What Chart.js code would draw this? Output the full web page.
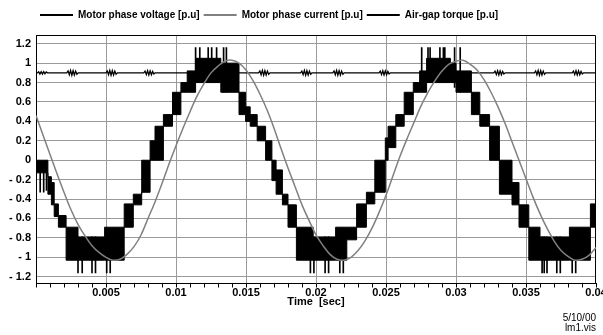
<!DOCTYPE html>
<html>
<head>
<meta charset="utf-8">
<script src="https://cdn.jsdelivr.net/npm/chart.js@4.4.1/dist/chart.umd.min.js"></script>
<style>
  html, body { margin: 0; padding: 0; background: #fff; overflow: hidden; }
  #wrap { width: 603px; height: 335px; overflow: hidden; }
</style>
</head>
<body>
<div id="wrap"><canvas id="myChart" width="620" height="335"></canvas></div>
<script>
// time in ms, labels shown in seconds
var xTickVals = [0,1,2,3,4,5,6,7,8,9,10,11,12,13,14,15,16,17,18,19,20,21,22,23,24,25,26,27,28,29,30,31,32,33,34,35,36,37,38,39,40];
var xTickLabels = {5: '0.005', 10: '0.01', 15: '0.015', 20: '0.02', 25: '0.025', 30: '0.03', 35: '0.035', 40: '0.04'};
var yTickVals = [-1.2, -1, -0.8, -0.6, -0.4, -0.2, 0, 0.2, 0.4, 0.6, 0.8, 1, 1.2];
var yTickLabels = ['- 1.2', '- 1', '- 0.8', '- 0.6', '- 0.4', '- 0.2', '0', '0.2', '0.4', '0.6', '0.8', '1', '1.2'];

var seriesNames = ['Motor phase voltage [p.u]', 'Motor phase current [p.u]', 'Air-gap torque [p.u]'];

// voltage: switching band, each level holds from voltT[i] to voltT[i+1]
var voltT  = [0, 0.85, 1.10, 1.30, 1.60, 2.15, 3.00, 4.90, 6.30, 6.95, 7.55, 8.15, 8.50, 9.10, 9.75, 10.35, 10.80, 11.40, 13.20, 14.50, 14.97, 15.30, 15.80, 16.40, 16.85, 17.15, 17.60, 18.00, 18.60, 19.80, 21.40, 22.20, 22.90, 23.60, 24.20, 24.95, 25.15, 25.70, 26.30, 26.95, 27.40, 27.90, 29.60, 30.00, 31.10, 31.70, 32.40, 33.10, 34.00, 34.50, 35.20, 36.00, 38.10, 39.60, 40.00];
var voltLo = [-0.13, -0.35, -0.46, -0.58, -0.69, -1.03, -1.03, -1.03, -0.69, -0.46, -0.33, 0.00, 0.00, 0.35, 0.47, 0.70, 0.70, 0.80, 0.70, 0.47, 0.40, 0.35, 0.20, 0.00, -0.21, -0.35, -0.46, -0.69, -1.03, -1.03, -1.03, -0.82, -0.69, -0.45, -0.33, 0.00, 0.13, 0.35, 0.47, 0.70, 0.70, 0.80, 0.80, 0.70, 0.47, 0.35, 0.00, -0.35, -0.46, -0.69, -1.03, -1.03, -1.03, -0.69, -0.69];
var voltHi = [0.00, -0.17, -0.23, -0.45, -0.57, -0.69, -0.79, -0.69, -0.45, -0.35, 0.00, 0.20, 0.35, 0.47, 0.70, 0.80, 0.92, 1.05, 1.00, 0.70, 0.55, 0.47, 0.35, 0.20, 0.00, -0.10, -0.35, -0.46, -0.69, -0.79, -0.69, -0.69, -0.45, -0.33, 0.00, 0.23, 0.35, 0.47, 0.70, 0.80, 0.92, 1.05, 1.00, 0.92, 0.70, 0.47, 0.35, 0.00, -0.23, -0.46, -0.69, -0.79, -0.69, -0.45, -0.45];

// single switching pulses sticking out of the band
var spikeT    = [0.30, 0.55, 0.75, 3.00, 3.30, 4.00, 4.25, 5.05, 5.30, 11.40, 11.70, 12.30, 12.55, 12.90, 13.40, 13.60, 19.60, 19.85, 20.65, 20.90, 21.70, 21.95, 27.55, 28.00, 28.15, 28.85, 29.10, 29.20, 29.90, 30.30, 36.15, 36.30, 36.50, 37.20, 37.45, 38.30, 38.55];
var spikeFrom = [-0.33, -0.33, -0.31, -1.16, -1.16, -1.16, -1.16, -1.16, -1.16, 0.80, 0.80, 0.80, 0.80, 0.80, 0.70, 0.70, -1.16, -1.16, -1.16, -1.16, -1.16, -1.16, 0.75, 0.80, 0.80, 0.80, 0.80, 0.80, 0.75, 0.70, -1.16, -1.16, -1.16, -1.16, -1.16, -1.16, -1.16];
var spikeTo   = [-0.10, -0.10, -0.10, -0.79, -0.79, -0.79, -0.79, -0.79, -0.79, 1.16, 1.16, 1.16, 1.16, 1.16, 1.16, 1.16, -0.79, -0.79, -0.79, -0.79, -0.79, -0.79, 1.16, 1.16, 1.16, 1.16, 1.16, 1.16, 1.16, 1.16, -0.79, -0.79, -0.79, -0.79, -0.79, -0.79, -0.79];

var currentT = [0, 0.5, 1, 1.5, 2, 2.5, 3, 3.5, 4, 4.5, 5, 5.5, 6, 6.5, 7, 7.5, 8, 8.5, 9, 9.5, 10, 10.5, 11, 11.5, 12, 12.5, 13, 13.5, 14, 14.5, 15, 15.5, 16, 16.5, 17, 17.5, 18, 18.5, 19, 19.5, 20, 20.5, 21, 21.5, 22, 22.5, 23, 23.5, 24, 24.5, 25, 25.5, 26, 26.5, 27, 27.5, 28, 28.5, 29, 29.5, 30, 30.5, 31, 31.5, 32, 32.5, 33, 33.5, 34, 34.5, 35, 35.5, 36, 36.5, 37, 37.5, 38, 38.5, 39, 39.5, 40];
var currentV = [0.46, 0.26, 0.06, -0.14, -0.33, -0.51, -0.66, -0.78, -0.88, -0.95, -1.00, -1.03, -1.02, -0.97, -0.89, -0.77, -0.60, -0.43, -0.24, -0.04, 0.15, 0.33, 0.50, 0.66, 0.79, 0.90, 0.97, 1.02, 1.03, 1.00, 0.93, 0.82, 0.68, 0.52, 0.33, 0.12, -0.08, -0.27, -0.46, -0.62, -0.77, -0.88, -0.97, -1.02, -1.03, -1.00, -0.93, -0.83, -0.70, -0.54, -0.36, -0.16, 0.04, 0.22, 0.39, 0.56, 0.70, 0.82, 0.92, 0.99, 1.02, 1.03, 0.99, 0.93, 0.83, 0.70, 0.55, 0.38, 0.19, 0.00, -0.19, -0.38, -0.55, -0.70, -0.83, -0.93, -0.99, -1.03, -1.02, -0.98, -0.90];

var torqueT = [0, 0.10, 0.19, 0.28, 0.37, 0.46, 0.55, 0.64, 0.73, 0.82,
  2.20, 2.29, 2.38, 2.47, 2.56, 2.65, 2.74, 2.83, 2.92, 3.01,
  5.00, 5.09, 5.18, 5.27, 5.36, 5.45, 5.54, 5.63, 5.72, 5.81,
  7.70, 7.79, 7.88, 7.97, 8.06, 8.15, 8.24, 8.33, 8.42, 8.51,
  15.90, 15.99, 16.08, 16.17, 16.26, 16.35, 16.44, 16.53, 16.62, 16.71,
  18.90, 18.99, 19.08, 19.17, 19.26, 19.35, 19.44, 19.53, 19.62, 19.71,
  21.20, 21.29, 21.38, 21.47, 21.56, 21.65, 21.74, 21.83, 21.92, 22.01,
  24.50, 24.59, 24.68, 24.77, 24.86, 24.95, 25.04, 25.13, 25.22, 25.31,
  32.70, 32.79, 32.88, 32.97, 33.06, 33.15, 33.24, 33.33, 33.42, 33.51,
  35.60, 35.69, 35.78, 35.87, 35.96, 36.05, 36.14, 36.23, 36.32, 36.41,
  38.30, 38.39, 38.48, 38.57, 38.66, 38.75, 38.84, 38.93, 39.02, 39.11, 40];
var torqueV = [0.90, 0.90, 0.912, 0.888, 0.912, 0.888, 0.912, 0.89, 0.91, 0.90,
  0.90, 0.92, 0.88, 0.925, 0.875, 0.922, 0.878, 0.918, 0.885, 0.90,
  0.90, 0.92, 0.88, 0.925, 0.875, 0.922, 0.878, 0.918, 0.885, 0.90,
  0.90, 0.918, 0.882, 0.922, 0.878, 0.92, 0.88, 0.915, 0.888, 0.90,
  0.90, 0.92, 0.88, 0.925, 0.875, 0.922, 0.878, 0.918, 0.885, 0.90,
  0.90, 0.918, 0.882, 0.925, 0.875, 0.922, 0.878, 0.918, 0.885, 0.90,
  0.90, 0.92, 0.88, 0.925, 0.875, 0.922, 0.878, 0.918, 0.885, 0.90,
  0.90, 0.918, 0.882, 0.922, 0.878, 0.92, 0.88, 0.915, 0.888, 0.90,
  0.90, 0.918, 0.882, 0.922, 0.878, 0.92, 0.88, 0.915, 0.888, 0.90,
  0.90, 0.92, 0.88, 0.925, 0.875, 0.922, 0.878, 0.918, 0.885, 0.90,
  0.90, 0.918, 0.882, 0.922, 0.878, 0.92, 0.88, 0.915, 0.888, 0.90, 0.90];

function pts(xs, ys) {
  return xs.map(function (x, i) { return {x: x, y: ys[i]}; });
}

// order in the legend: voltage, current, torque
var legendRank = {0: 0, 3: 1, 4: 2};

var framePlugin = {
  id: 'frame',
  beforeDatasetsDraw: function (chart) {
    var a = chart.chartArea, c = chart.ctx;
    c.save();
    c.strokeStyle = '#000';
    c.lineWidth = 1;
    c.beginPath();
    c.moveTo(Math.round(a.left) + 0.5, Math.round(a.top) + 0.5);
    c.lineTo(Math.round(a.right) - 0.5, Math.round(a.top) + 0.5);
    c.lineTo(Math.round(a.right) - 0.5, Math.round(a.bottom));
    c.stroke();
    c.restore();
  }
};

Chart.defaults.font.family = '"Liberation Sans", Arial, sans-serif';
Chart.defaults.font.size = 11;
Chart.defaults.font.weight = 'bold';
Chart.defaults.color = '#000';

var ctx = document.getElementById('myChart');
var myChart = new Chart(ctx, {
  type: 'line',
  data: {
    datasets: [{
      label: seriesNames[0],
      data: pts(voltT, voltHi),
      stepped: 'before',
      borderColor: '#000',
      backgroundColor: '#000',
      borderWidth: 1,
      pointRadius: 0,
      fill: false,
      order: 2
    }, {
      label: 'vlo',
      data: pts(voltT, voltLo),
      stepped: 'before',
      borderColor: '#000',
      backgroundColor: '#000',
      borderWidth: 1,
      pointRadius: 0,
      fill: '-1',
      order: 2
    }, {
      type: 'bar',
      label: 'vspike',
      data: spikeT.map(function (t, i) { return {x: t, y: [spikeFrom[i], spikeTo[i]]}; }),
      backgroundColor: '#000',
      borderWidth: 0,
      barThickness: 1,
      grouped: false,
      order: 3
    }, {
      label: seriesNames[1],
      data: pts(currentT, currentV),
      borderColor: '#808080',
      backgroundColor: '#808080',
      borderWidth: 1.5,
      pointRadius: 0,
      tension: 0.35,
      fill: false,
      order: 0
    }, {
      label: seriesNames[2],
      data: pts(torqueT, torqueV),
      borderColor: '#000',
      backgroundColor: '#000',
      borderWidth: 1.3,
      pointRadius: 0,
      fill: false,
      order: 1
    }]
  },
  options: {
    responsive: false,
    animation: false,
    devicePixelRatio: 1,
    layout: { padding: { left: 0, right: 24, top: 6, bottom: 1.5 } },
    plugins: {
      tooltip: { enabled: false },
      legend: {
        position: 'top',
        align: 'start',
        fullSize: false,
        labels: {
          usePointStyle: true,
          pointStyle: 'line',
          pointStyleWidth: 33,
          padding: 4,
          color: '#000',
          font: { family: '"Liberation Sans Narrow", "Arial Narrow", "Liberation Sans", sans-serif', size: 10, weight: 'bold' },
          filter: function (item) { return item.datasetIndex in legendRank; },
          sort: function (a, b) { return legendRank[a.datasetIndex] - legendRank[b.datasetIndex]; },
          generateLabels: function (chart) {
            var items = Chart.defaults.plugins.legend.labels.generateLabels(chart);
            items.forEach(function (it) { it.lineWidth = 2; });
            return items;
          }
        }
      },
      subtitle: {
        display: true,
        position: 'bottom',
        align: 'end',
        text: ['5/10/00', 'lm1.vis'],
        color: '#000',
        font: { size: 10, weight: 'normal', lineHeight: 1.0 },
        padding: { top: 5, bottom: 0 }
      }
    },
    scales: {
      x: {
        type: 'linear',
        min: 0,
        max: 40,
        offset: false,
        afterBuildTicks: function (s) { s.ticks = xTickVals.map(function (v) { return {value: v}; }); },
        afterFit: function (s) { s.height = 25; },
        ticks: {
          autoSkip: false,
          maxRotation: 0,
          padding: -1,
          font: { size: 11, weight: 'bold' },
          callback: function (v) { return xTickLabels[v] || ''; }
        },
        grid: {
          offset: false,
          drawTicks: true,
          tickLength: 4,
          tickColor: '#000',
          color: function (c) {
            var v = c.tick ? c.tick.value : 0;
            return (v % 5 === 0 && v > 0 && v < 40) ? '#9a9a9a' : 'rgba(0,0,0,0)';
          },
          lineWidth: 1,
          borderDash: [3, 2]
        },
        border: { display: true, color: '#000', width: 1 },
        title: {
          display: true,
          text: 'Time  [sec]',
          font: { size: 11, weight: 'bold' },
          padding: { top: 0, bottom: 0 }
        }
      },
      // empty strip between legend and plot
      xTop: {
        type: 'linear',
        position: 'top',
        min: 0,
        max: 40,
        display: true,
        afterFit: function (s) { s.height = 5; },
        ticks: { display: false },
        grid: { display: false, drawTicks: false },
        border: { display: false }
      },
      y: {
        min: -1.27,
        max: 1.29,
        afterBuildTicks: function (s) { s.ticks = yTickVals.map(function (v) { return {value: v}; }); },
        afterFit: function (s) { s.width = 36; },
        ticks: {
          padding: 5,
          font: { size: 11, weight: 'bold' },
          callback: function (v, i) { return yTickLabels[i]; }
        },
        grid: {
          drawTicks: false,
          color: '#9a9a9a',
          lineWidth: 1,
          borderDash: [3, 2]
        },
        border: { display: true, color: '#000', width: 1 }
      }
    }
  },
  plugins: [framePlugin]
});
</script>
</body>
</html>
